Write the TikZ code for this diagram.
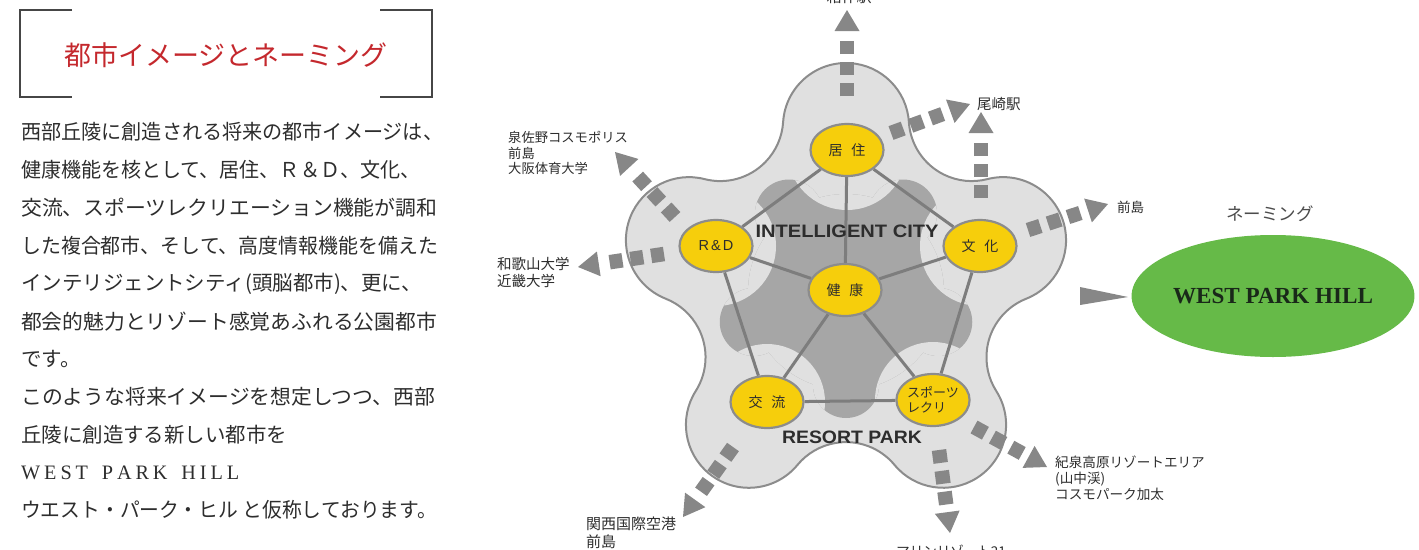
\documentclass[tikz,border=0pt]{standalone}
\usepackage{fontspec}
\usepackage{graphicx}
\usetikzlibrary{calc,arrows.meta,shapes.geometric}
\newfontfamily\jp{Noto Sans CJK JP}
\newfontfamily\lsans{Liberation Sans}
\newfontfamily\lserif{Liberation Serif}
\definecolor{lightfill}{RGB}{224,224,224}
\definecolor{darkfill}{RGB}{166,166,166}
\definecolor{outline}{RGB}{140,140,140}
\definecolor{edgecol}{RGB}{125,125,125}
\definecolor{yel}{RGB}{246,206,12}
\definecolor{arrowcol}{RGB}{135,135,135}
\definecolor{grn}{RGB}{102,186,72}
\definecolor{titlered}{RGB}{196,40,45}
\definecolor{txt}{RGB}{45,45,45}
\definecolor{brk}{RGB}{70,70,70}
\pgfdeclarelayer{bg}
\pgfdeclarelayer{edges}
\pgfsetlayers{bg,edges,main}
\newcommand\blockarr[2]{%
  \foreach \dd in {0,21,42}{%
    \draw[sq] ($(#1)!\dd pt!(#2)$) -- ($(#1)!\dd pt+13pt!(#2)$);
  }%
  \fill[arrowcol] ($(#2)!21pt!(#1)!12.5pt!90:(#1)$) -- (#2) -- ($(#2)!21pt!(#1)!12.5pt!-90:(#1)$) -- cycle;
}
\newcommand\bodyline[3]{\node[body] at (21,#1) {\resizebox{#2}{\height}{#3}};}
\begin{document}
\begin{tikzpicture}[x=1pt,y=-1pt,
  fn/.style={ellipse, draw=outline, line width=2.2pt, fill=yel, minimum width=73pt, minimum height=52pt, inner sep=0pt, font=\jp\fontsize{14}{16}\selectfont, text=txt},
  edge/.style={draw=edgecol, line width=3pt},
  lbl/.style={anchor=west, align=left, inner sep=0pt, text=txt},
  body/.style={anchor=west, inner sep=0pt, font=\jp\fontsize{20.5}{24}\selectfont, text=txt},
  sq/.style={draw=arrowcol, line width=14.5pt},
  bracket/.style={draw=brk, line width=1.3pt},
  citytext/.style={inner sep=0pt, text=txt, font=\lsans\bfseries\fontsize{18}{18}\selectfont}]
\useasboundingbox (0,0) rectangle (1419,549);

% ---------- left text ----------
\draw[bracket] (72,10) -- (20,10) -- (20,97) -- (72,97);
\draw[bracket] (380,10) -- (432,10) -- (432,97) -- (380,97);
\node[text=titlered, font=\jp\fontsize{27}{27}\selectfont] (title) at (226,55) {都市イメージとネーミング};
\bodyline{132}{422pt}{西部丘陵に創造される将来の都市イメージは、}
\bodyline{170}{399pt}{健康機能を核として、居住、Ｒ＆Ｄ、文化、}
\bodyline{208}{416pt}{交流、スポーツレクリエーション機能が調和}
\bodyline{246}{417pt}{した複合都市、そして、高度情報機能を備えた}
\bodyline{284}{401pt}{インテリジェントシティ(頭脳都市)、更に、}
\bodyline{322}{416pt}{都会的魅力とリゾート感覚あふれる公園都市}
\node[body] at (21,359) {です。};
\bodyline{397}{414pt}{このような将来イメージを想定しつつ、西部}
\bodyline{435}{266pt}{丘陵に創造する新しい都市を}
\bodyline{473}{218pt}{\lserif W\kern4pt E\kern4pt S\kern4pt T\kern14pt P\kern4pt A\kern4pt R\kern4pt K\kern14pt H\kern4pt I\kern4pt L\kern4pt L}
\bodyline{510}{416pt}{ウエスト・パーク・ヒル と仮称しております。}

% ---------- positions ----------
\coordinate (pK) at (847,150);
\coordinate (pR) at (716,246);
\coordinate (pB) at (980,246);
\coordinate (pH) at (845,290);
\coordinate (pX) at (767,402);
\coordinate (pS) at (933,400);

% ---------- flower ----------
\begin{pgfonlayer}{bg}
\path[fill=lightfill, draw=outline, line width=2pt]
 ($(846,126)+(183.6:63)$)
 arc[start angle=183.6, end angle=356.4, radius=63]
 arc[start angle=176.4, end angle=75.6, radius=63]
 arc[start angle=255.6, end angle=428.4, radius=63]
 arc[start angle=248.4, end angle=147.6, radius=63]
 arc[start angle=327.6, end angle=500.4, radius=63]
 arc[start angle=320.4, end angle=219.6, radius=63]
 arc[start angle=399.6, end angle=572.4, radius=63]
 arc[start angle=392.4, end angle=291.6, radius=63]
 arc[start angle=471.6, end angle=644.4, radius=63]
 arc[start angle=464.4, end angle=363.6, radius=63]
 -- cycle;
\begin{scope}
\clip (846,292) circle[radius=98]
  ($(846,292)+(-54:97)$) circle[radius=34]
  ($(846,292)+(18:97)$) circle[radius=34]
  ($(846,292)+(90:93)$) circle[radius=33]
  ($(846,292)+(162:97)$) circle[radius=34]
  ($(846,292)+(234:97)$) circle[radius=34];
\fill[darkfill] (690,150) rectangle (1000,450);
\fill[lightfill] (pK) circle[radius=60] (pR) circle[radius=60] (pB) circle[radius=60]
  (pX) circle[radius=58] (pS) circle[radius=58];
\end{scope}
\end{pgfonlayer}

% ---------- nodes ----------
\node[fn] (kyo) at (pK) {居\hspace{9pt}住};
\node[fn] (rd) at (pR) {\lsans\fontsize{14.5}{16}\selectfont R\kern2pt\&\kern2pt D};
\node[fn] (bun) at (pB) {文\hspace{9pt}化};
\node[fn] (ken) at (pH) {健\hspace{9pt}康};
\node[fn] (kou) at (pX) {交\hspace{9pt}流};
\node[fn, align=left, font=\jp\fontsize{13}{14.5}\selectfont] (spo) at (pS) {スポーツ\\レクリ};

\begin{pgfonlayer}{edges}
\draw[edge] (kyo) -- (rd);
\draw[edge] (kyo) -- (bun);
\draw[edge] (kyo) -- (ken);
\draw[edge] (rd) -- (ken);
\draw[edge] (rd) -- (kou);
\draw[edge] (bun) -- (ken);
\draw[edge] (bun) -- (spo);
\draw[edge] (ken) -- (kou);
\draw[edge] (ken) -- (spo);
\draw[edge] (kou) -- (spo);
\end{pgfonlayer}

\node[citytext] (ic) at (847,231) {\resizebox{183pt}{\height}{INTELLIGENT CITY}};
\node[citytext] (rp) at (852,437) {\resizebox{140pt}{\height}{RESORT PARK}};

% ---------- arrows ----------
\coordinate (a1s) at (847,96);   \coordinate (a1t) at (847,10);
\coordinate (a2s) at (891,133);  \coordinate (a2t) at (970,104);
\coordinate (a3s) at (981,198);  \coordinate (a3t) at (981,112);
\coordinate (a4s) at (1028,230); \coordinate (a4t) at (1108,204);
\coordinate (a5s) at (675,217);  \coordinate (a5t) at (615,152);
\coordinate (a6s) at (664,254);  \coordinate (a6t) at (578,267);
\coordinate (a7s) at (733,447);  \coordinate (a7t) at (683,517);
\coordinate (a8s) at (939,450);  \coordinate (a8t) at (950,533);
\coordinate (a9s) at (974,427);  \coordinate (a9t) at (1047,467);
\blockarr{a1s}{a1t}
\blockarr{a2s}{a2t}
\blockarr{a3s}{a3t}
\blockarr{a4s}{a4t}
\blockarr{a5s}{a5t}
\blockarr{a6s}{a6t}
\blockarr{a7s}{a7t}
\blockarr{a8s}{a8t}
\blockarr{a9s}{a9t}

% ---------- destination labels ----------
\node[anchor=center, inner sep=0pt, text=txt, font=\jp\fontsize{15}{15}\selectfont] (l1) at (849,-3) {箱作駅};
\node[lbl, font=\jp\fontsize{14.5}{16}\selectfont] (l2) at (977,104) {尾崎駅};
\node[lbl, font=\jp\fontsize{13.5}{16}\selectfont] (l3) at (1117,207) {前島};
\node[lbl, font=\jp\fontsize{13.3}{15.5}\selectfont] (l4) at (508,153) {泉佐野コスモポリス\\前島\\大阪体育大学};
\node[lbl, font=\jp\fontsize{14.5}{17}\selectfont] (l5) at (497,272) {和歌山大学\\近畿大学};
\node[lbl, font=\jp\fontsize{15}{18}\selectfont] (l6) at (586,533) {関西国際空港\\前島};
\node[anchor=center, inner sep=0pt, text=txt, font=\jp\fontsize{13.5}{15}\selectfont] (l7) at (951,551) {マリンリゾート21};
\node[lbl, font=\jp\fontsize{13.6}{16}\selectfont] (l8) at (1055,478) {紀泉高原リゾートエリア\\(山中渓)\\コスモパーク加太};

% ---------- naming ----------
\coordinate (w1) at (1080,287);
\coordinate (w2) at (1080,305);
\coordinate (wt) at (1128,297);
\fill[arrowcol] (w1) -- (wt) -- (w2) -- cycle;
\node[text=txt!85, font=\jp\fontsize{17.5}{18}\selectfont] (nm) at (1270,214) {ネーミング};
\node[ellipse, fill=grn, minimum width=237pt, minimum height=122pt, inner sep=0pt, text={rgb,255:red,25;green,40;blue,25}] (wph) at (1273,296)
  {\resizebox{200pt}{\height}{\lserif\bfseries\fontsize{23}{23}\selectfont WEST PARK HILL}};
\end{tikzpicture}
\end{document}
